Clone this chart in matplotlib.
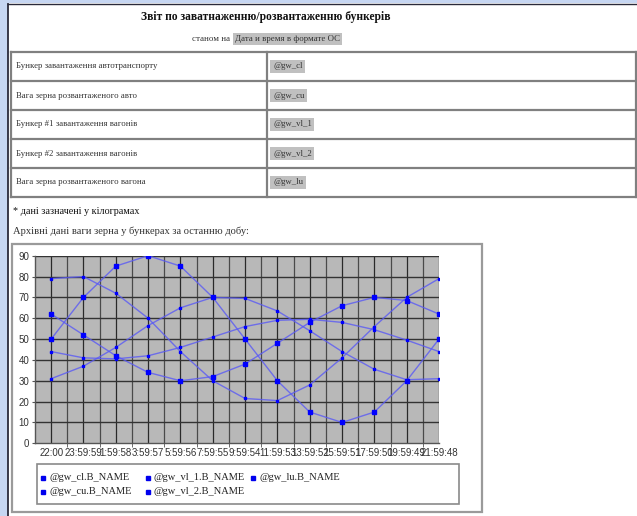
import numpy as np
import matplotlib.pyplot as plt
from matplotlib.patches import Rectangle

W, H = 637, 516
SERIF = "Liberation Serif"
SANS = "Liberation Sans"

# дані графіку: вага зерна за останню добу
TIMES = ["22:00", "23:59:59", "1:59:58", "3:59:57", "5:59:56", "7:59:55", "9:59:54",
         "11:59:53", "13:59:52", "15:59:51", "17:59:50", "19:59:49", "21:59:48"]
gw_cl = [79, 80, 72, 60, 44, 30, 21.5, 20.5, 28, 41, 56, 70, 79]
gw_cu = [62, 52, 42, 34, 30, 32, 38, 48, 58, 66, 70, 68.5, 62]
gw_vl_1 = [50, 70, 85, 90, 85, 70, 50, 30, 15, 10, 15, 30, 50]
gw_vl_2 = [44, 41, 40.5, 42, 46, 51, 56, 59, 59.5, 58, 54.5, 49.5, 44]
gw_lu = [31, 37, 46, 56.5, 65, 70, 69.5, 63.5, 54, 44, 35.5, 30.5, 31]
SERIES_NAMES = ["@gw_cl.B_NAME", "@gw_cu.B_NAME", "@gw_vl_1.B_NAME",
                "@gw_vl_2.B_NAME", "@gw_lu.B_NAME"]
SERIES = [gw_cl, gw_cu, gw_vl_1, gw_vl_2, gw_lu]
MARK_SIZE = [1.8, 2.2, 2.8, 1.8, 1.8]

# таблиця
ROW_NAMES = ["Бункер завантаження автотранспорту", "Вага зерна розвантаженого авто",
             "Бункер #1 завантаження вагонів", "Бункер #2 завантаження вагонів",
             "Вага зерна розвантаженого вагона"]
ROW_VARS = ["@gw_cl", "@gw_cu", "@gw_vl_1", "@gw_vl_2", "@gw_lu"]

BLUE_BG, BORDER, HILITE = "#c6d6f2", "#808080", "#c0c0c0"

fig = plt.figure(figsize=(W / 100, H / 100), dpi=100, facecolor="white")

# ---- сторінка (координати в пікселях) ----
pg = fig.add_axes([0, 0, 1, 1], zorder=0)
pg.set_xlim(0, W); pg.set_ylim(H, 0); pg.axis("off")
pg.add_patch(Rectangle((0, 0), 7.5, H, color=BLUE_BG, lw=0))
pg.add_patch(Rectangle((0, 0), W, 3.2, color=BLUE_BG, lw=0))
pg.plot([8, 8], [3.5, H], color="#2a2a3a", lw=1.3)
pg.plot([8, W], [3.6, 3.6], color="#2a2a3a", lw=1.0)

pg.text(266, 17, "Звіт по заватнаженню/розвантаженню бункерів", ha="center", va="center",
        fontsize=8.3, fontweight="bold", family=SERIF, color="#111111")
pg.text(232, 39, "станом на ", ha="right", va="center", fontsize=6.4, family=SERIF, color="#333333")
pg.text(235, 39, "Дата и время в формате ОС", ha="left", va="center", fontsize=6.4,
        family=SERIF, color="#333333", bbox=dict(fc=HILITE, ec="none", pad=1.8))

ys = [52, 81, 110, 139, 168, 197]
for y in ys:
    pg.plot([11, 636], [y, y], color=BORDER, lw=1.6)
for x in [11, 267, 636]:
    pg.plot([x, x], [ys[0], ys[-1]], color=BORDER, lw=1.6)
for r, (name, var) in enumerate(zip(ROW_NAMES, ROW_VARS)):
    yc = (ys[r] + ys[r + 1]) / 2
    pg.text(16, yc, name, ha="left", va="center", fontsize=6.3, family=SERIF, color="#333333")
    pg.text(273, yc, var, ha="left", va="center", fontsize=6.3, family=SERIF, color="#333333",
            bbox=dict(fc=HILITE, ec="none", pad=1.8))

pg.text(13, 211, "* дані зазначені у кілограмах", ha="left", va="center", fontsize=7.3,
        family=SERIF, color="#111111")
pg.text(13, 231, "Архівні дані ваги зерна у бункерах за останню добу:", ha="left", va="center",
        fontsize=7.6, family=SERIF, color="#333333")

# рамка графіку та легенди
pg.add_patch(Rectangle((11.5, 244), 470.5, 267.5, fc="white", ec="#9a9a9a", lw=1.6))
pg.add_patch(Rectangle((37, 464), 422, 40, fc="white", ec="#8a8a8a", lw=1.2))
for i, name in enumerate(SERIES_NAMES):
    lx, ly = 43 + 105 * (i // 2), 478 + 14 * (i % 2)
    pg.plot(lx, ly, marker="s", ms=3.2, color="#0000ee", ls="none")
    pg.text(lx + 6, ly, name, ha="left", va="center", fontsize=7.5, family=SERIF, color="#222222")

# ---- графік ----
ax = fig.add_axes([35 / W, 1 - 443.3 / H, 404 / W, (443.3 - 255.7) / H], zorder=1)
ax.set_facecolor("#b8b8b8")
x = np.arange(len(TIMES))
for vals, ms in zip(SERIES, MARK_SIZE):
    ax.plot(x, vals, color="#5a5af5", lw=1.0, alpha=0.8, zorder=3)
    ax.plot(x, vals, color="#0000ff", ls="none", marker="s", ms=ms, zorder=4)
ax.set_xlim(-0.5, 12)
ax.set_ylim(0, 90)
ax.set_yticks(np.arange(0, 91, 10))
ax.set_xticks(x)
ax.set_xticklabels(TIMES)
ax.set_xticks(np.arange(0.5, 12, 1.0), minor=True)
for xv in np.arange(0, 12.01, 0.5):
    ax.axvline(xv, color="#2a2a2a" if xv % 1 == 0 else "#4a4a4a", lw=0.9, zorder=1)
for yv in np.arange(10, 91, 10):
    ax.axhline(yv, color="#333333", lw=1.0, zorder=1)
for s in ["top", "right"]:
    ax.spines[s].set_visible(False)
for s in ["left", "bottom"]:
    ax.spines[s].set_color("#555555")
    ax.spines[s].set_linewidth(1.0)
ax.tick_params(axis="x", which="major", length=0, pad=3.5, labelsize=7, labelcolor="#333333")
ax.tick_params(axis="x", which="minor", length=3, color="#555555")
ax.tick_params(axis="y", length=2.5, pad=1.5, labelsize=7, labelcolor="#333333", color="#555555")
for lab in ax.get_xticklabels() + ax.get_yticklabels():
    lab.set_family(SANS)

fig.savefig("out.png", dpi=100, facecolor="white")
